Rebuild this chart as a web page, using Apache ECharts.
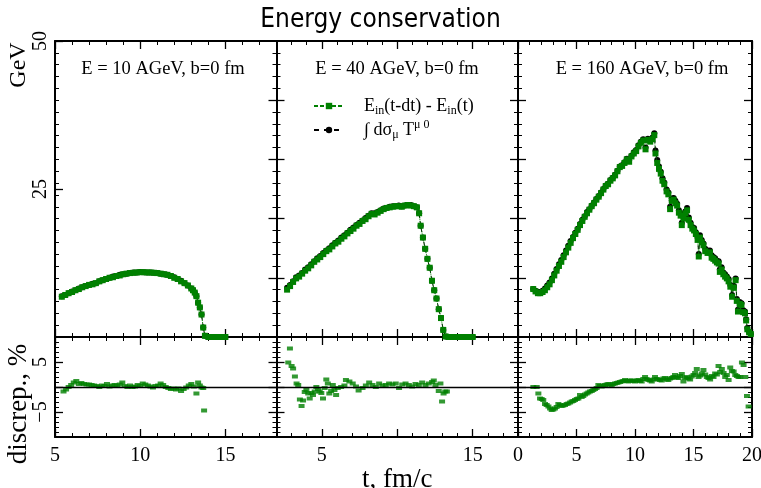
<!DOCTYPE html>
<html><head><meta charset="utf-8">
<script src="https://cdn.jsdelivr.net/npm/echarts@6/dist/echarts.min.js"></script>
<style>html,body{margin:0;padding:0;background:#fff}#c{width:761px;height:488px}</style>
</head><body><div id="c"></div>
<script>
// ---------- data ----------
const panelTitles = ['E = 10 AGeV, b=0 fm', 'E = 40 AGeV, b=0 fm', 'E = 160 AGeV, b=0 fm'];
const xRanges = [[5, 18], [2, 18], [0, 20]];
const xMajorTicks = [[5, 10, 15], [5, 10, 15], [0, 5, 10, 15, 20]];
const xTickLabels = [[5, 10, 15], [5, 15], [0, 5, 10, 15, 20]];
const eTickLabels = [25, 50];
const dTickLabels = [-5, 5];

// 10 AGeV
const t10 = [5.4,5.6,5.8,6.0,6.2,6.4,6.6,6.8,7.0,7.2, 7.4,7.6,7.8,8.0,8.2,8.4,8.6,8.8,9.0,9.2,
  9.4,9.6,9.8,10.0,10.2,10.4,10.6,10.8,11.0,11.2, 11.4,11.6,11.8,12.0,12.2,12.4,12.6,12.8,13.0,13.1,
  13.2,13.3,13.4,13.5,13.6,13.7,13.8,14.0,14.2,14.4, 14.6,14.8,15.0];
const green10 = [6.8,7.1,7.4,7.6,7.9,8.1,8.4,8.6,8.8,8.9, 9.1,9.4,9.6,9.8,10.0,10.1,10.3,10.4,10.6,10.7,
  10.8,10.85,10.9,10.95,10.95,10.9,10.9,10.85,10.8,10.7, 10.6,10.5,10.3,10.0,9.8,9.4,9.1,8.7,8.2,7.9,
  7.5,6.9,5.8,5.0,3.8,1.6,0.2,0,0,0, 0,0,0];
const black10 = [6.9,7.1,7.4,7.7,7.9,8.2,8.4,8.6,8.8,9.0, 9.1,9.4,9.6,9.8,10.0,10.2,10.3,10.5,10.6,10.7,
  10.8,10.9,10.9,11.0,10.95,10.9,10.9,10.85,10.8,10.7, 10.6,10.5,10.3,10.1,9.8,9.5,9.1,8.7,8.2,7.9,
  7.5,6.9,5.8,5.0,3.8,1.6,0.2,0,0,0, 0,0,0];

// 40 AGeV
const t40 = [2.7,2.9,3.1,3.3,3.5,3.7,3.9,4.1,4.3,4.5, 4.7,4.9,5.1,5.3,5.5,5.7,5.9,6.1,6.3,6.5,
  6.7,6.9,7.1,7.3,7.5,7.7,7.9,8.1,8.3,8.5, 8.7,8.9,9.1,9.3,9.5,9.7,9.9,10.1,10.3,10.5,
  10.7,10.9,11.1,11.3,11.45,11.55,11.7,11.85,12.0,12.15, 12.3,12.45,12.6,12.75,12.9,13.05,13.2,13.4,13.6,13.8,
  14.0,14.2,14.4,14.6,14.8,15.0];
const green40 = [8.0,8.6,9.3,9.9,10.2,10.7,11.2,11.6,12.1,12.7, 13.1,13.5,14.0,14.5,14.8,15.3,15.8,16.1,16.6,17.0,
  17.5,17.9,18.3,18.8,19.1,19.6,19.9,20.4,20.8,20.7, 21.0,21.3,21.6,21.8,21.9,22.0,22.1,22.1,22.0,22.2,
  22.3,22.2,22.1,21.9,20.9,18.8,16.8,14.9,13.2,11.7, 9.5,7.9,6.5,4.7,3.2,1.2,0.1,0,0,0,
  0,0,0,0,0,0];
const black40 = [8.3,8.8,9.4,10.1,10.4,10.8,11.4,11.8,12.3,12.8, 13.3,13.7,14.2,14.6,15.0,15.5,15.9,16.3,16.8,17.2,
  17.6,18.1,18.5,18.9,19.3,19.7,20.1,20.5,20.9,20.9, 21.1,21.4,21.7,21.8,22.0,22.1,22.1,22.2,22.1,22.2,
  22.3,22.3,22.1,21.9,20.9,18.8,16.8,14.9,13.2,11.7, 9.5,7.9,6.5,4.7,3.2,1.2,0.1,0,0,0,
  0,0,0,0,0,0];

// 160 AGeV
const t160 = [1.3,1.5,1.7,1.9,2.1,2.3,2.5,2.7,2.9,3.1, 3.3,3.5,3.7,3.9,4.1,4.3,4.5,4.7,4.9,5.1,
  5.3,5.5,5.7,5.9,6.1,6.3,6.5,6.7,6.9,7.1, 7.3,7.5,7.7,7.9,8.1,8.3,8.5,8.7,8.9,9.1,
  9.3,9.5,9.7,9.9,10.1,10.3,10.5,10.7,10.9,11.1, 11.3,11.5,11.65,11.75,11.9,12.05,12.2,12.35,12.5,12.7,
  12.85,13.0,13.15,13.3,13.45,13.6,13.75,13.9,14.0,14.15, 14.3,14.45,14.6,14.75,14.9,15.05,15.2,15.35,15.45,15.55,
  15.7,15.85,16.0,16.2,16.4,16.55,16.7,16.85,17.0,17.15, 17.25,17.4,17.55,17.7,17.85,18.0,18.15,18.3,18.45,18.6,
  18.7,18.8,18.95,19.1,19.25,19.4,19.5,19.6,19.75,19.9];
const green160 = [8.1,7.7,7.4,7.4,7.6,7.9,8.4,8.9,9.6,10.4, 11.2,12.0,12.7,13.5,14.3,15.1,15.9,16.7,17.4,18.1,
  18.9,19.6,20.3,20.9,21.5,22.1,22.6,23.2,23.7,24.3, 24.9,25.5,25.8,26.4,26.8,27.3,28.0,28.7,28.9,29.4,
  30.0,29.6,30.5,31.0,31.4,32.2,32.8,33.2,31.7,33.3, 33.0,33.4,34.1,31.0,29.4,28.4,27.6,26.4,25.8,24.6,
  24.1,21.6,23.0,23.2,22.6,22.2,21.0,20.5,18.9,20.0, 20.9,21.4,19.8,18.9,18.3,18.0,17.4,16.4,13.6,16.8,
  16.0,15.5,14.5,14.2,14.3,13.4,13.2,12.9,12.6,12.4, 11.0,11.4,10.6,10.2,9.9,9.4,8.5,6.8,8.3,9.6,
  6.1,4.3,5.6,5.4,4.2,4.0,2.8,1.3,0.8,0.5];
const black160 = [8.1,7.8,7.6,7.6,7.8,8.2,8.7,9.2,9.9,10.7, 11.5,12.3,13.0,13.8,14.6,15.4,16.2,16.9,17.6,18.3,
  19.1,19.8,20.4,21.1,21.6,22.2,22.7,23.3,23.8,24.4, 25.0,25.6,25.9,26.5,26.9,27.4,28.1,28.8,29.0,29.5,
  30.1,29.8,30.6,31.2,31.6,32.4,33.0,33.4,32.0,33.5, 33.3,33.7,34.4,31.5,29.9,28.8,27.9,26.8,26.1,24.9,
  24.4,22.0,23.4,23.5,23.0,22.5,21.4,20.8,19.3,20.4, 21.2,21.8,20.2,19.3,18.6,18.4,17.7,16.8,14.0,17.2,
  16.4,15.8,14.9,14.6,14.6,13.8,13.5,13.3,12.9,12.8, 11.4,11.8,10.9,10.6,10.2,9.8,8.8,7.1,8.6,9.9,
  6.4,4.6,5.9,5.7,4.5,4.3,3.0,1.5,0.9,0.5];

// discrepancy, %
const d10t = [5.5,5.65,5.8,5.95,6.1,6.25,6.4,6.55,6.7,6.85, 7.0,7.15,7.3,7.45,7.6,7.75,7.9,8.05,8.2,8.35,
  8.5,8.65,8.8,8.95,9.1,9.25,9.4,9.55,9.7,9.85, 10.0,10.15,10.3,10.45,10.6,10.75,10.9,11.05,11.2,11.35,
  11.5,11.65,11.8,11.95,12.1,12.25,12.4,12.55,12.7,12.85, 13.0,13.15,13.3,13.4,13.5,13.6,13.7,13.75];
const d10v = [-0.9,-0.5,0.0,0.4,0.9,1.2,0.6,0.8,0.6,0.5, 0.5,0.4,0.3,0.2,0.0,0.3,0.2,0.6,0.1,0.3,
  0.4,0.3,0.5,0.9,0.2,0.0,0.3,0.0,0.1,0.4, 0.2,0.7,0.5,0.3,0.1,-0.1,0.2,0.3,0.7,0.4,
  0.0,-0.2,-0.4,-0.3,-0.5,-0.3,-0.8,-0.4,-0.1,0.3, 0.6,0.1,-1.3,0.9,0.3,-0.1,-0.2,-4.7];
const d40t = [2.78,2.89,3.0,3.1,3.22,3.33,3.44,3.55,3.66,3.76, 3.87,3.98,4.1,4.2,4.31,4.42,4.53,4.64,4.75,4.86,
  4.97,5.08,5.19,5.3,5.4,5.5,5.62,5.73,5.84,5.95, 6.06,6.28,6.5,6.6,6.83,7.05,7.27,7.44,7.7,7.92,
  8.14,8.36,8.58,8.8,9.02,9.24,9.46,9.68,9.9,10.12, 10.33,10.55,10.77,10.99,11.21,11.43,11.65,11.87,12.09,12.31,
  12.42,12.53,12.75,12.86,12.97,13.07,13.18,13.29];
const d40v = [4.9,7.7,4.2,3.7,2.1,0.7,0.4,-2.5,-3.8,-2.7, -1.0,-0.6,-1.3,-2.3,-1.2,-1.6,-0.9,0.0,-0.4,-0.9,
  -1.2,-2.3,-0.2,1.5,0.7,-1.3,-0.8,0.4,-0.6,-1.6, -0.2,0.0,0.3,1.4,1.1,0.7,0.1,-0.7,-0.2,0.3,
  0.9,0.4,0.0,0.7,0.3,0.4,0.7,0.5,0.7,-0.2, 0.5,0.7,0.4,0.1,0.6,0.4,0.9,0.4,0.7,1.0,
  1.3,0.4,-0.8,0.7,-2.9,-1.3,-0.9,-0.9];
const d160t = [1.31,1.6,1.74,1.88,2.02,2.16,2.31,2.45,2.6,2.74, 2.88,3.02,3.16,3.3,3.45,3.59,3.73,3.87,4.02,4.16,
  4.3,4.45,4.59,4.73,4.87,5.02,5.16,5.3,5.44,5.58, 5.73,5.87,6.01,6.15,6.3,6.44,6.58,6.72,6.87,7.01,
  7.15,7.3,7.44,7.58,7.72,7.87,8.01,8.15,8.29,8.44, 8.58,8.72,8.86,9.0,9.15,9.29,9.43,9.57,9.72,9.86,
  10.0,10.14,10.29,10.43,10.57,10.71,10.86,11.0,11.14,11.29, 11.43,11.57,11.71,11.86,12.0,12.14,12.28,12.43,12.57,12.71,
  12.85,13.0,13.14,13.28,13.42,13.57,13.71,13.85,14.0,14.14, 14.28,14.42,14.57,14.71,14.85,15.0,15.14,15.28,15.43,15.57,
  15.71,15.85,16.0,16.14,16.28,16.42,16.57,16.71,16.85,17.0, 17.14,17.28,17.42,17.57,17.71,17.85,18.0,18.14,18.28,18.43,
  18.57,18.71,18.85,19.0,19.14,19.28,19.43,19.57,19.71];
const d160v = [0.0,0.0,-1.3,-2.3,-2.4,-2.6,-3.4,-3.6,-3.9,-4.3, -4.6,-4.5,-4.3,-4.0,-3.4,-3.6,-3.8,-3.7,-3.6,-3.4,
  -3.3,-3.1,-2.9,-2.8,-2.6,-2.4,-2.3,-1.6,-2.0,-1.8, -1.5,-1.3,-1.1,-0.9,-0.8,-0.6,-0.4,-0.2,0.4,0.2,
  0.1,0.3,0.4,0.5,0.6,0.5,0.2,0.6,0.7,0.8, 0.9,1.0,1.1,1.2,1.4,1.2,1.1,1.3,1.3,1.2,
  1.1,1.3,1.4,1.2,1.1,1.6,2.0,1.6,1.4,1.3, 1.1,1.5,2.0,1.6,1.5,1.4,1.3,1.7,1.8,1.5,
  1.4,1.7,1.8,2.0,2.4,1.9,1.8,2.2,2.6,1.1, 1.8,2.0,1.7,1.5,2.1,2.4,2.8,3.6,2.0,2.3,
  2.7,3.4,2.5,2.0,1.8,1.5,2.2,2.0,2.7,2.5, 4.2,3.0,3.6,2.8,2.0,2.4,1.4,3.9,3.2,3.1,
  2.4,2.2,2.0,2.0,4.9,4.4,2.0,-1.8,-3.9];

const energyT = [t10, t40, t160];
const energyGreen = [green10, green40, green160];
const energyBlack = [black10, black40, black160];
const discT = [d10t, d40t, d160t];
const discV = [d10v, d40v, d160v];

// ---------- chart ----------
const SERIF = "'Liberation Serif', 'Times New Roman', serif";
const GREEN = '#008000';
const zip = (a, b) => a.map((v, i) => [v, b[i]]);
const fmtNum = v => (v < 0 ? '\u2212' + (-v) : '' + v);

const gridBoxes = [
  {left: 55, top: 41, width: 221.5, height: 296},
  {left: 276.5, top: 41, width: 241.5, height: 296},
  {left: 518, top: 41, width: 234, height: 296},
  {left: 55, top: 337, width: 221.5, height: 100},
  {left: 276.5, top: 337, width: 241.5, height: 100},
  {left: 518, top: 337, width: 234, height: 100}
];
const grids = gridBoxes.map(b => Object.assign({outerBoundsMode: 'none', containLabel: false}, b));

const xAxes = [], yAxes = [];
function addPair(list, g, pos, min, max, step, majors, labels, isY, extra) {
  const base = {type: 'value', gridIndex: g, position: pos, min: min, max: max, interval: step,
    splitLine: {show: false}, silent: true};
  list.push(Object.assign({}, base, {
    axisLine: {show: true, onZero: false, lineStyle: {color: '#000', width: 2}},
    axisTick: {show: true, inside: true, length: 4, lineStyle: {color: '#000', width: 1}},
    axisLabel: {show: false}
  }));
  const major = Object.assign({}, base, {
    axisLine: {show: false, onZero: false},
    axisTick: {show: true, inside: true, length: 8, customValues: majors, lineStyle: {color: '#000', width: 1.3}},
    axisLabel: labels ? {show: true, customValues: labels, formatter: fmtNum, color: '#000',
      fontFamily: SERIF, fontSize: 20, rotate: isY ? 90 : 0, margin: isY ? 4 : 9,
      showMinLabel: true, showMaxLabel: true, hideOverlap: false} : {show: false}
  }, extra || {});
  list.push(major);
  return list.length - 1;
}

const xIdx = [], yIdx = [];
for (let g = 0; g < 6; g++) {
  const col = g % 3, row = g < 3 ? 0 : 1;
  const [xmin, xmax] = xRanges[col];
  const extraX = (row === 1 && col === 1) ? {name: 't, fm/c', nameLocation: 'middle', nameGap: 20,
    nameTextStyle: {fontFamily: SERIF, fontSize: 27, color: '#000'}} : null;
  xIdx[g] = addPair(xAxes, g, 'bottom', xmin, xmax, 1, xMajorTicks[col], row === 1 ? xTickLabels[col] : null, false, extraX);
  addPair(xAxes, g, 'top', xmin, xmax, 1, xMajorTicks[col], null, false);
  if (row === 0) {
    yIdx[g] = addPair(yAxes, g, 'left', 0, 50, 2, col === 0 ? [25, 50] : [10, 20, 30, 40], col === 0 ? eTickLabels : null, true);
    addPair(yAxes, g, 'right', 0, 50, 2, [10, 20, 30, 40], null, true);
  } else {
    yIdx[g] = addPair(yAxes, g, 'left', -10, 10, 1, [-5, 0, 5], col === 0 ? dTickLabels : null, true);
    addPair(yAxes, g, 'right', -10, 10, 1, [-5, 0, 5], null, true);
  }
}

const series = [];
for (let c = 0; c < 3; c++) {
  series.push({
    name: 'Int', type: 'line', xAxisIndex: xIdx[c], yAxisIndex: yIdx[c],
    data: zip(energyT[c], energyBlack[c]), symbol: 'circle', symbolSize: 6,
    itemStyle: {color: '#000'}, lineStyle: {color: '#000', width: 1, type: [4, 3]}, z: 2
  });
  series.push({
    name: 'Ein', type: 'line', xAxisIndex: xIdx[c], yAxisIndex: yIdx[c],
    data: zip(energyT[c], energyGreen[c]), symbol: 'rect', symbolSize: 6,
    itemStyle: {color: GREEN}, lineStyle: {color: GREEN, width: 1, type: 'dotted'}, z: 3
  });
  series.push({
    name: 'disc' + c, type: 'scatter', xAxisIndex: xIdx[c + 3], yAxisIndex: yIdx[c + 3],
    data: zip(discT[c], discV[c]), symbol: 'rect', symbolSize: [6, 4],
    itemStyle: {color: GREEN}, z: 3,
    markLine: {silent: true, symbol: 'none', label: {show: false}, animation: false,
      lineStyle: {color: '#000', width: 1.4, type: 'solid'}, data: [{yAxis: 0}]}
  });
}

const legendRich = {
  p: {width: 15},
  m: {fontFamily: SERIF, fontSize: 18, color: '#000', lineHeight: 22},
  s: {fontFamily: SERIF, fontSize: 12, color: '#000', lineHeight: 12, verticalAlign: 'bottom'},
  u: {fontFamily: SERIF, fontSize: 12, color: '#000', lineHeight: 12, verticalAlign: 'top'}
};

const option = {
  animation: false,
  backgroundColor: '#fff',
  title: {text: 'Energy conservation', left: 'center', top: 2,
    textStyle: {fontFamily: "'DejaVu Sans Condensed', 'Liberation Sans Narrow', sans-serif",
      fontSize: 26, fontWeight: 'normal', color: '#000'}},
  legend: {
    orient: 'vertical', left: 308, top: 92, itemWidth: 30, itemHeight: 8, itemGap: 2,
    data: [
      {name: 'Ein', lineStyle: {type: [4, 2], width: 2, color: GREEN}, itemStyle: {color: GREEN}},
      {name: 'Int', lineStyle: {type: [5, 5], width: 2, color: '#000'}, itemStyle: {color: '#000'}}
    ],
    formatter: n => n === 'Ein'
      ? '{p|}{m|E}{s|in}{m|(t-dt) - E}{s|in}{m|(t)}'
      : '{p|}{m|\u222B d\u03C3}{s|\u03BC}{m| T}{u|\u03BC 0}',
    textStyle: {rich: legendRich},
    selectedMode: false
  },
  grid: grids,
  xAxis: xAxes,
  yAxis: yAxes,
  series: series,
  graphic: [
    {type: 'text', x: 18.5, y: 65, rotation: Math.PI / 2,
      style: {text: 'GeV', font: "24px 'Liberation Serif'", fill: '#000', align: 'center', verticalAlign: 'middle'}},
    {type: 'text', x: 18.5, y: 404, rotation: Math.PI / 2,
      style: {text: 'discrep., %', font: "27px 'Liberation Serif'", fill: '#000', align: 'center', verticalAlign: 'middle'}},
    {type: 'text', x: 163, y: 69, style: {text: panelTitles[0], font: "18.5px 'Liberation Serif'", fill: '#000', align: 'center', verticalAlign: 'middle'}},
    {type: 'text', x: 397, y: 69, style: {text: panelTitles[1], font: "18.5px 'Liberation Serif'", fill: '#000', align: 'center', verticalAlign: 'middle'}},
    {type: 'text', x: 642, y: 69, style: {text: panelTitles[2], font: "18.5px 'Liberation Serif'", fill: '#000', align: 'center', verticalAlign: 'middle'}}
  ]
};

const chart = echarts.init(document.getElementById('c'), null, {renderer: 'canvas'});
chart.setOption(option);
</script></body></html>
